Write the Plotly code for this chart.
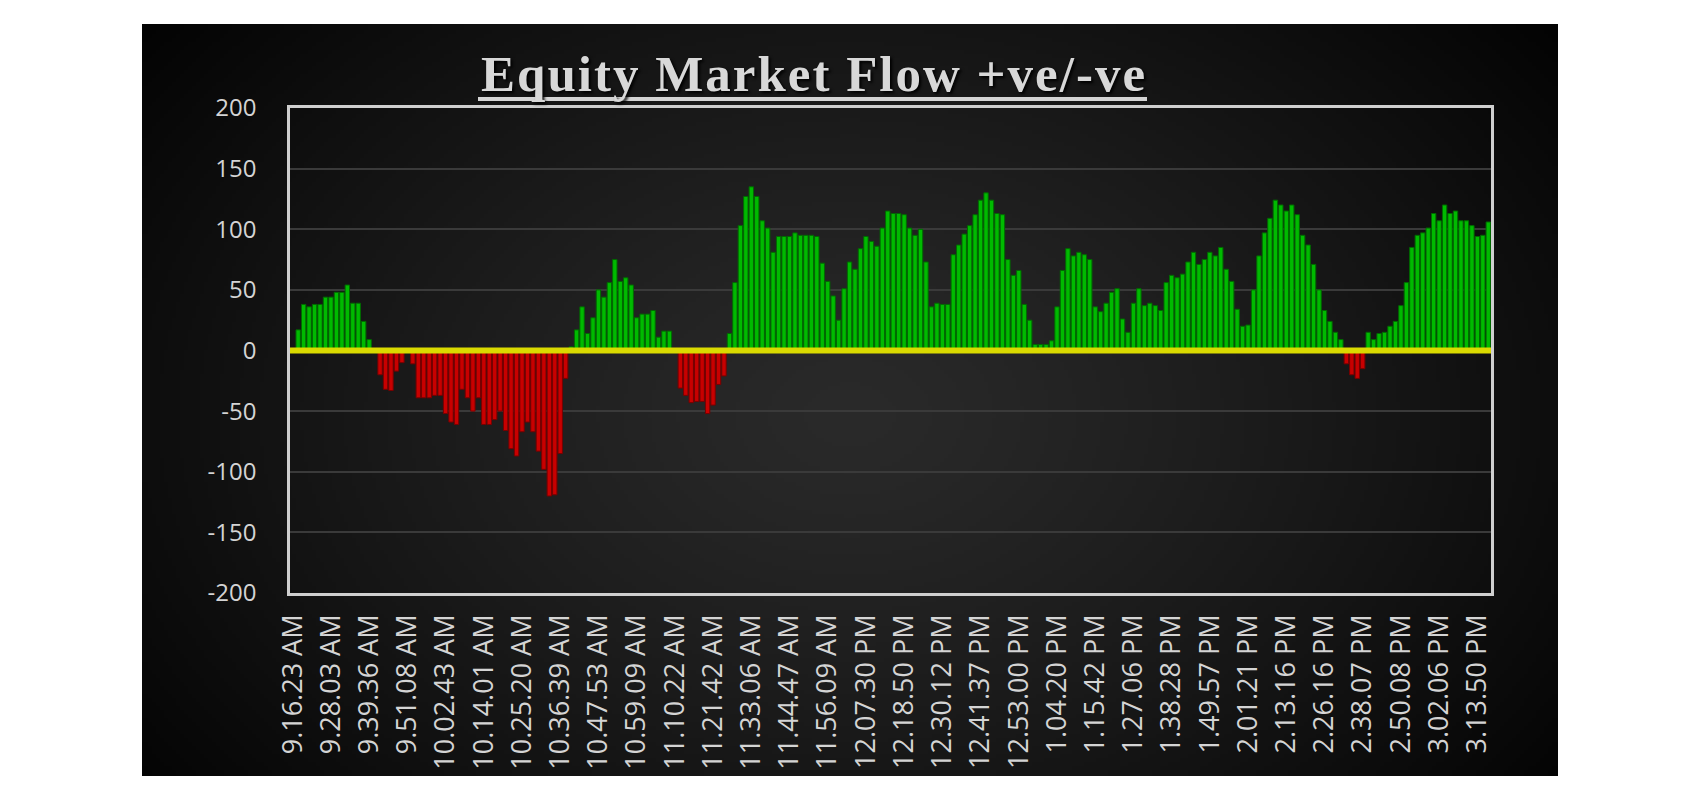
import base64, struct, zlib
import numpy as np
import plotly.graph_objects as go

# ---------------- data ----------------
tick_labels = [
    "9.16.23 AM", "9.28.03 AM", "9.39.36 AM", "9.51.08 AM", "10.02.43 AM", "10.14.01 AM",
    "10.25.20 AM", "10.36.39 AM", "10.47.53 AM", "10.59.09 AM", "11.10.22 AM", "11.21.42 AM",
    "11.33.06 AM", "11.44.47 AM", "11.56.09 AM", "12.07.30 PM", "12.18.50 PM", "12.30.12 PM",
    "12.41.37 PM", "12.53.00 PM", "1.04.20 PM", "1.15.42 PM", "1.27.06 PM", "1.38.28 PM",
    "1.49.57 PM", "2.01.21 PM", "2.13.16 PM", "2.26.16 PM", "2.38.07 PM", "2.50.08 PM",
    "3.02.06 PM", "3.13.50 PM",
]
label_step = 7  # one time label every 7 bars

flow_values = [
    0, 17, 38, 36, 38, 38, 44, 44, 48, 48,
    54, 39, 39, 24, 9, 0, -20, -32, -33, -17,
    -10, 0, -11, -39, -39, -39, -37, -37, -52, -59,
    -61, -32, -39, -50, -39, -61, -61, -57, -50, -66,
    -81, -87, -67, -59, -67, -83, -98, -120, -119, -85,
    -23, 3, 17, 36, 14, 27, 50, 44, 56, 75,
    57, 60, 54, 27, 30, 30, 33, 11, 16, 16,
    0, -31, -37, -43, -42, -42, -52, -45, -28, -21,
    14, 56, 103, 127, 135, 127, 107, 101, 81, 94,
    94, 94, 97, 95, 95, 95, 94, 72, 57, 45,
    25, 51, 73, 67, 84, 94, 90, 86, 101, 115,
    113, 113, 112, 101, 95, 100, 73, 36, 39, 38,
    38, 79, 87, 96, 103, 112, 124, 130, 124, 113,
    112, 75, 62, 66, 38, 25, 5, 5, 5, 8,
    36, 66, 84, 78, 81, 79, 75, 36, 32, 39,
    48, 51, 26, 15, 39, 51, 37, 39, 37, 33,
    56, 62, 60, 63, 73, 81, 71, 75, 81, 78,
    85, 67, 57, 34, 20, 21, 50, 78, 97, 109,
    124, 120, 115, 120, 112, 95, 87, 71, 50, 33,
    24, 15, 9, -11, -20, -23, -15, 15, 9, 14,
    15, 20, 24, 37, 56, 85, 95, 97, 101, 113,
    107, 120, 113, 115, 107, 107, 103, 94, 95, 106,
]

y_ticks = [200, 150, 100, 50, 0, -50, -100, -150, -200]

# ---------------- background gradient image ----------------
def png_data_uri(arr):
    h, w = arr.shape[:2]
    raw = b"".join(b"\x00" + arr[r].tobytes() for r in range(h))

    def chunk(t, d):
        c = struct.pack(">I", len(d)) + t + d
        return c + struct.pack(">I", zlib.crc32(t + d) & 0xFFFFFFFF)

    png = (b"\x89PNG\r\n\x1a\n"
           + chunk(b"IHDR", struct.pack(">IIBBBBB", w, h, 8, 2, 0, 0, 0))
           + chunk(b"IDAT", zlib.compress(raw, 9))
           + chunk(b"IEND", b""))
    return "data:image/png;base64," + base64.b64encode(png).decode()

gw, gh = 354, 188
yy, xx = np.mgrid[0:gh, 0:gw]
u = (xx / (gw - 1) - 0.5) / 0.6
v = (yy / (gh - 1) - 0.52) / 0.8
d = np.sqrt(u * u + v * v)
val = np.clip(42 - 36 * d ** 1.25, 3, 60).astype(np.uint8)
img = np.stack([val, val, val], axis=-1).astype(np.uint8)
bg_uri = png_data_uri(img)

# ---------------- figure ----------------
W, H = 1700, 800
L, R, T, B = 290, 1700 - 1491, 108, 800 - 593
pw, ph = W - L - R, H - T - B

def px(xp):
    return (xp - L) / pw

def py(yp):
    return (H - B - yp) / ph

x_idx = list(range(len(flow_values)))
colors = ["#00BA00" if v_ >= 0 else "#C80000" for v_ in flow_values]
lines = ["#006A00" if v_ >= 0 else "#780000" for v_ in flow_values]

fig = go.Figure()
fig.add_trace(go.Bar(
    x=x_idx, y=flow_values,
    marker=dict(color=colors, line=dict(color=lines, width=1)),
    width=0.8,
    hoverinfo="y",
))

fig.update_layout(
    width=W, height=H,
    margin=dict(l=L, r=R, t=T, b=B, pad=0),
    paper_bgcolor="white",
    plot_bgcolor="rgba(0,0,0,0)",
    showlegend=False,
    bargap=0.2,
    images=[dict(
        source=bg_uri, xref="paper", yref="paper",
        x=px(142), y=py(24), sizex=px(1558) - px(142), sizey=py(24) - py(776),
        xanchor="left", yanchor="top", sizing="stretch", layer="below",
    )],
    shapes=[
        dict(type="line", xref="paper", yref="y", x0=0, x1=1, y0=0, y1=0,
             line=dict(color="#DADA00", width=6), layer="above"),
        dict(type="line", xref="paper", yref="paper", x0=px(478), x1=px(1147),
             y0=py(99), y1=py(99), line=dict(color="#D4D4D4", width=4), layer="above"),
    ],
    annotations=[dict(
        text='<b><span style="letter-spacing:2px">Equity Market Flow +ve/-ve</span></b>',
        xref="paper", yref="paper", x=px(814), y=py(74),
        xanchor="center", yanchor="middle", showarrow=False,
        font=dict(family="Liberation Serif", size=51, color="#D8D8D8",
                  shadow="2px 2px 3px #000000"),
    )],
)

fig.update_xaxes(
    range=[-0.5, len(flow_values) - 0.5],
    tickmode="array",
    tickvals=x_idx[::label_step],
    ticktext=tick_labels,
    tickangle=-90,
    ticks="",
    ticklabelstandoff=8,
    tickfont=dict(family="Open Sans", size=27, color="#D4D4D4"),
    showgrid=False, zeroline=False,
    showline=True, mirror=True, linecolor="#CFCFCF", linewidth=2.5,
)
fig.update_yaxes(
    range=[-200, 200],
    tickmode="array", tickvals=y_ticks, ticktext=[str(t) for t in y_ticks],
    ticks="",
    ticklabelstandoff=26,
    tickfont=dict(family="Open Sans", size=24, color="#D4D4D4"),
    showgrid=True, gridcolor="#3A3A3A", gridwidth=2,
    zeroline=False,
    showline=True, mirror=True, linecolor="#CFCFCF", linewidth=2.5,
)

fig.write_html("out.html")
